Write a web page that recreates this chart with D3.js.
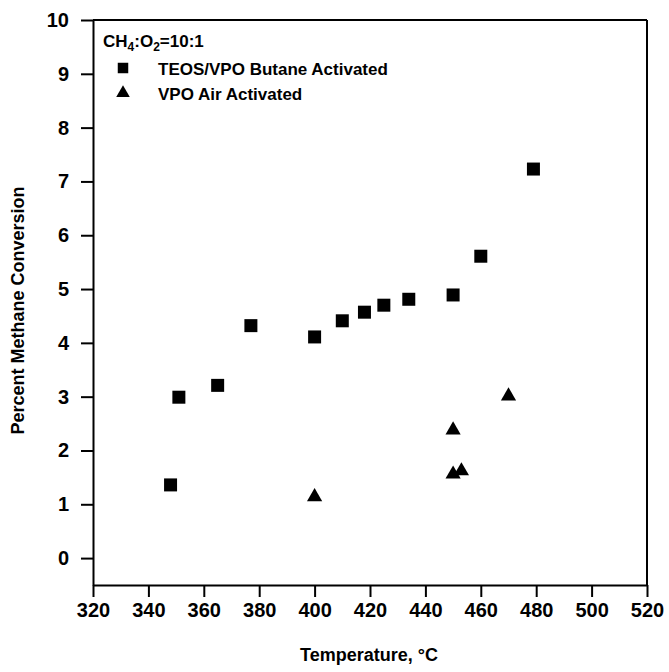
<!DOCTYPE html>
<html>
<head>
<meta charset="utf-8">
<script src="https://cdn.jsdelivr.net/npm/d3@7"></script>
<style>
  html, body { margin: 0; padding: 0; background: #fff; }
  svg { display: block; font-family: "Liberation Sans", Arial, sans-serif; }
</style>
</head>
<body>
<svg id="chart" width="669" height="672"></svg>
<script>
// ---- data ----
const teosTemps = [348, 351, 365, 377, 400, 410, 418, 425, 434, 450, 460, 479];
const teosConv  = [1.36, 2.99, 3.21, 4.32, 4.11, 4.41, 4.57, 4.70, 4.81, 4.89, 5.61, 7.23];
const airTemps  = [400, 450, 450, 453, 470];
const airConv   = [1.14, 2.38, 1.56, 1.62, 3.01];
const xTicks = [320, 340, 360, 380, 400, 420, 440, 460, 480, 500, 520];
const yTicks = [0, 1, 2, 3, 4, 5, 6, 7, 8, 9, 10];
const seriesNames = ["TEOS/VPO Butane Activated", "VPO Air Activated"];

const svg = d3.select("#chart");
const L = 93, R = 647, T = 20, B = 585;

const x = d3.scaleLinear().domain([320, 520]).range([L, R]);
const y = d3.scaleLinear().domain([-0.5, 10]).range([B, T]);

const tickFont = "20px";

// axes
const xAxis = svg.append("g").attr("transform", `translate(0,${B})`)
  .call(d3.axisBottom(x).tickValues(xTicks).tickSize(12).tickSizeOuter(0).tickPadding(6));
const yAxis = svg.append("g").attr("transform", `translate(${L},0)`)
  .call(d3.axisLeft(y).tickValues(yTicks).tickSize(12).tickSizeOuter(0).tickPadding(12));

[xAxis, yAxis].forEach(a => {
  a.select(".domain").attr("stroke", "#000").attr("stroke-width", 2);
  a.selectAll(".tick line").attr("stroke", "#000").attr("stroke-width", 2);
  a.selectAll(".tick text")
    .attr("fill", "#000")
    .style("font-size", tickFont)
    .style("font-family", "'Liberation Sans', Arial, sans-serif")
    .style("font-weight", "bold");
});

// frame top & right
svg.append("line").attr("x1", L).attr("x2", R).attr("y1", T).attr("y2", T)
  .attr("stroke", "#000").attr("stroke-width", 2);
svg.append("line").attr("x1", R).attr("x2", R).attr("y1", T).attr("y2", B)
  .attr("stroke", "#000").attr("stroke-width", 2);

// axis titles
svg.append("text").attr("x", 369).attr("y", 661)
  .attr("text-anchor", "middle").style("font-size", "18px").style("font-weight", "bold")
  .text("Temperature, °C");
svg.append("text").attr("transform", `translate(24,${(T + B) / 2 + 8}) rotate(-90)`)
  .attr("text-anchor", "middle").style("font-size", "18px").style("font-weight", "bold")
  .text("Percent Methane Conversion");

// data points
const sq = d3.symbol().type(d3.symbolSquare).size(169);
const tri = d3.symbol().type(d3.symbolTriangle).size(100);

svg.append("g").selectAll("path").data(teosTemps.map((t, i) => [t, teosConv[i]]))
  .join("path").attr("d", sq)
  .attr("transform", d => `translate(${x(d[0])},${y(d[1])})`)
  .attr("fill", "#000");

svg.append("g").selectAll("path").data(airTemps.map((t, i) => [t, airConv[i]]))
  .join("path").attr("d", tri)
  .attr("transform", d => `translate(${x(d[0])},${y(d[1])})`)
  .attr("fill", "#000");

// legend
const lg = svg.append("g").style("font-size", "17px").style("font-weight", "bold");
const head = lg.append("text").attr("x", 103).attr("y", 47);
head.append("tspan").text("CH");
head.append("tspan").attr("dy", 4).style("font-size", "12px").text("4");
head.append("tspan").attr("dy", -4).text(":O");
head.append("tspan").attr("dy", 4).style("font-size", "12px").text("2");
head.append("tspan").attr("dy", -4).text("=10:1");

lg.append("path").attr("d", d3.symbol().type(d3.symbolSquare).size(110))
  .attr("transform", "translate(123,68)").attr("fill", "#000");
lg.append("text").attr("x", 158).attr("y", 75).text(seriesNames[0]);
lg.append("path").attr("d", d3.symbol().type(d3.symbolTriangle).size(80))
  .attr("transform", "translate(123,93)").attr("fill", "#000");
lg.append("text").attr("x", 158).attr("y", 100).text(seriesNames[1]);
</script>
</body>
</html>
